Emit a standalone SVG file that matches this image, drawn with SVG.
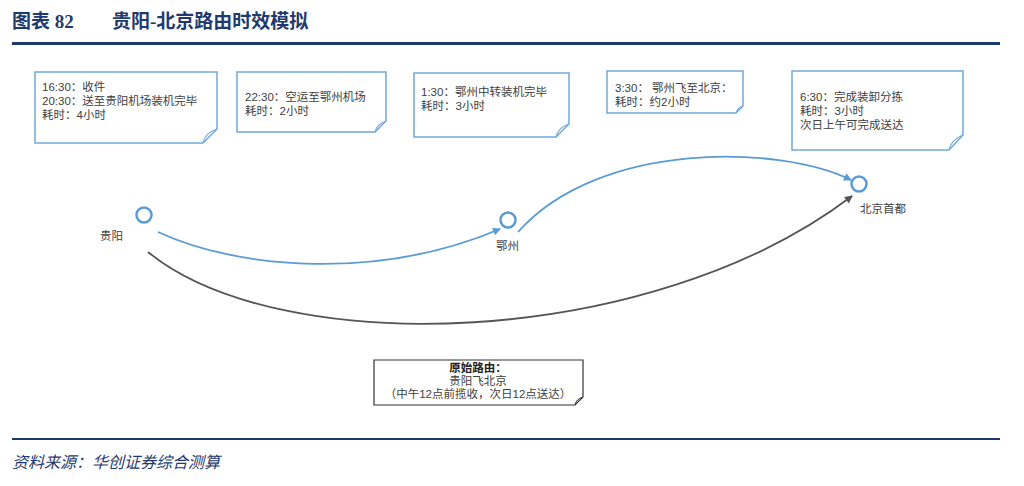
<svg xmlns="http://www.w3.org/2000/svg" width="1024" height="486" viewBox="0 0 1024 486">
<style>
.t{font-family:"Liberation Sans","Noto Sans CJK SC",sans-serif;font-size:11.5px;fill:#404040}
.h{font-family:"Liberation Serif","Noto Sans CJK SC",serif;font-size:19px;font-weight:bold;fill:#1f3a6e}
.note{fill:#fff;stroke:#6fa8dc;stroke-width:1.5}
.fold{fill:none;stroke:#6fa8dc;stroke-width:1.2}
.c{fill:#fff;stroke:#5b9bd5;stroke-width:2.5}
</style>
<defs>
<marker id="ab" markerWidth="8" markerHeight="8" refX="7" refY="4" orient="auto" markerUnits="userSpaceOnUse"><path d="M0,0 L8,4 L0,8 z" fill="#5b9bd5"/></marker>
<marker id="ag" markerWidth="8" markerHeight="8" refX="7" refY="4" orient="auto" markerUnits="userSpaceOnUse"><path d="M0,0 L8,4 L0,8 z" fill="#555"/></marker>
</defs>
<rect width="1024" height="486" fill="#fff"/>
<text class="h" x="12" y="28">图表 82</text>
<text class="h" x="112" y="28">贵阳-北京路由时效模拟</text>
<rect x="12" y="42" width="988" height="3" fill="#1f3a6e"/>
<rect x="12" y="438" width="988" height="2" fill="#1f3a6e"/>
<text x="12" y="468" style="font-family:'Liberation Serif','Noto Sans CJK SC',serif;font-size:16px;font-style:italic;fill:#1f3a6e">资料来源：华创证券综合测算</text>
<g id="connectors">
<path d="M158,232 C240,270 380,280 500,229" fill="none" stroke="#5b9bd5" stroke-width="1.8" marker-end="url(#ab)"/>
<path d="M518,232 C600,140 780,145 851,180" fill="none" stroke="#5b9bd5" stroke-width="1.8" marker-end="url(#ab)"/>
<path d="M148,252 C280,360 650,350 852,196" fill="none" stroke="#555" stroke-width="1.8" marker-end="url(#ag)"/>
</g>
<g id="guiyang"><circle class="c" cx="144" cy="215" r="7.5"/><text class="t" x="100" y="240">贵阳</text></g>
<g id="ezhou"><circle class="c" cx="508" cy="220" r="7.5"/><text class="t" x="496" y="250">鄂州</text></g>
<g id="beijing"><circle class="c" cx="859" cy="184" r="7.5"/><text class="t" x="860" y="213">北京首都</text></g>
<g id="n1"><path class="note" d="M35,72 H217 V129 L203,143 H35 Z"/><path class="fold" d="M203,143 Q205,133 217,129"/>
<text class="t" x="42" y="91">16:30：收件</text><text class="t" x="42" y="105">20:30：送至贵阳机场装机完毕</text><text class="t" x="42" y="119">耗时：4小时</text></g>
<g id="n2"><path class="note" d="M237,72 H386 V121 L375,132 H237 Z"/><path class="fold" d="M375,132 Q377,124 386,121"/>
<text class="t" x="245" y="101">22:30：空运至鄂州机场</text><text class="t" x="245" y="115">耗时：2小时</text></g>
<g id="n3"><path class="note" d="M414,73 H569 V124 L556,137 H414 Z"/><path class="fold" d="M556,137 Q558,128 569,124"/>
<text class="t" x="421" y="96">1:30：鄂州中转装机完毕</text><text class="t" x="421" y="110">耗时：3小时</text></g>
<g id="n4"><path class="note" d="M607,71 H743 V106 L736,113 H607 Z"/><path class="fold" d="M736,113 Q737,108 743,106"/>
<text class="t" x="615" y="92">3:30： 鄂州飞至北京：</text><text class="t" x="615" y="106">耗时：约2小时</text></g>
<g id="n5"><path class="note" d="M792,71 H963 V135 L949,150 H792 Z"/><path class="fold" d="M949,150 Q951,140 963,135"/>
<text class="t" x="800" y="101">6:30：完成装卸分拣</text><text class="t" x="800" y="115">耗时：3小时</text><text class="t" x="800" y="129">次日上午可完成送达</text></g>
<g id="orig"><path d="M374,360 H583 V397 L575,405 H374 Z" fill="#fff" stroke="#333" stroke-width="1.2"/><path d="M575,405 Q576,399 583,397" fill="none" stroke="#333"/>
<text class="t" x="478" y="372" text-anchor="middle" style="font-weight:bold;fill:#222">原始路由：</text>
<text class="t" x="478" y="385" text-anchor="middle">贵阳飞北京</text>
<text class="t" x="478" y="398" text-anchor="middle">（中午12点前揽收，次日12点送达）</text></g>
</svg>
